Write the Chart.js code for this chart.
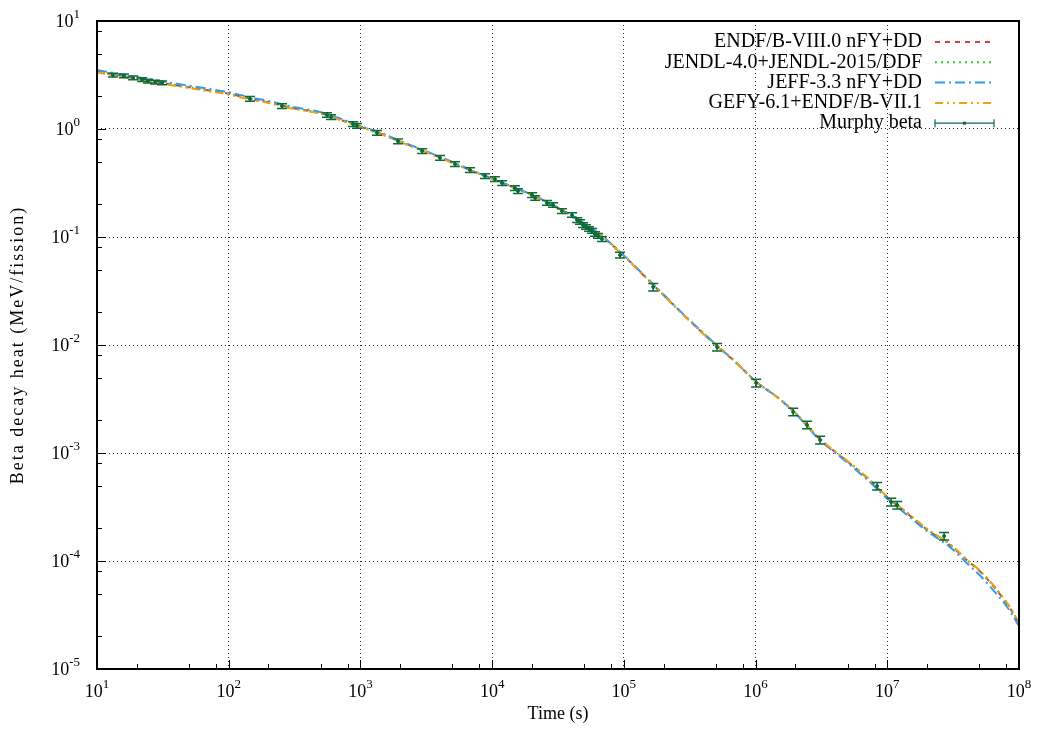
<!DOCTYPE html>
<html>
<head>
<meta charset="utf-8">
<script src="https://cdn.jsdelivr.net/npm/chart.js@4.4.0/dist/chart.umd.min.js"></script>
<style>
  html, body { margin: 0; padding: 0; background: #fff; }
</style>
</head>
<body>
<canvas id="myChart" width="1037" height="733"></canvas>
<script>
// time grid for the calculated curves (s)
const times = [10, 15, 20, 30, 50, 70, 100, 150, 200, 300, 500, 700, 1e3, 1.5e3, 2e3, 3e3, 5e3, 7e3,
  1e4, 1.5e4, 2e4, 3e4, 5e4, 7e4, 1e5, 1.5e5, 2e5, 3e5, 5e5, 7e5, 1e6, 1.5e6, 2e6, 3e6, 5e6, 7e6,
  1e7, 1.5e7, 2e7, 3e7, 4e7, 5e7, 6e7, 7e7, 8e7, 9e7, 1e8];

// beta decay heat (MeV/fission)
const endf = [3.40, 3.12, 2.93, 2.69, 2.43, 2.28, 2.12, 1.89, 1.77, 1.57, 1.40, 1.22, 1.05, 0.885, 0.765, 0.63, 0.49, 0.41,
  0.345, 0.283, 0.246, 0.192, 0.134, 0.099, 0.067, 0.041, 0.029, 0.0178, 0.0100, 0.0070, 0.0046, 0.0032, 0.00235, 0.00138, 0.00083, 0.00059,
  0.00039, 0.00026, 0.000195, 0.000140, 0.000102, 0.000081, 0.000064, 0.000051, 0.000041, 0.000033, 0.0000260];
const jendl = [3.42, 3.13, 2.94, 2.70, 2.44, 2.29, 2.12, 1.90, 1.78, 1.58, 1.40, 1.23, 1.06, 0.89, 0.768, 0.632, 0.49, 0.411,
  0.346, 0.284, 0.246, 0.193, 0.135, 0.0995, 0.0672, 0.0412, 0.0291, 0.0179, 0.0101, 0.00705, 0.00463, 0.00322, 0.00236, 0.00139, 0.000835, 0.000592,
  0.000392, 0.000262, 0.000197, 0.000142, 0.000103, 0.0000815, 0.0000645, 0.0000515, 0.0000415, 0.0000335, 0.0000263];
const jeff = [3.52, 3.22, 3.03, 2.78, 2.52, 2.36, 2.19, 1.95, 1.82, 1.61, 1.43, 1.25, 1.07, 0.90, 0.775, 0.638, 0.495, 0.414,
  0.348, 0.285, 0.247, 0.193, 0.135, 0.0995, 0.0675, 0.0415, 0.0294, 0.0180, 0.0101, 0.0070, 0.00462, 0.0032, 0.00233, 0.00136, 0.00081, 0.00057,
  0.000378, 0.000252, 0.000189, 0.000134, 0.000096, 0.0000745, 0.0000585, 0.0000470, 0.0000385, 0.0000310, 0.0000250];
const gefy = [3.33, 3.06, 2.88, 2.64, 2.39, 2.24, 2.08, 1.86, 1.74, 1.55, 1.38, 1.21, 1.04, 0.875, 0.758, 0.625, 0.485, 0.407,
  0.343, 0.281, 0.244, 0.191, 0.133, 0.0985, 0.0665, 0.0407, 0.0288, 0.0177, 0.0099, 0.0070, 0.0046, 0.0032, 0.00236, 0.00139, 0.00084, 0.000598,
  0.000395, 0.000265, 0.000199, 0.000143, 0.000104, 0.0000825, 0.0000655, 0.0000522, 0.0000420, 0.0000337, 0.0000265];

// Murphy beta measurement
const murphyT = [13.2, 16.0, 18.8, 22.0, 24.4, 27.6, 31.2,
  145, 254, 557, 598, 879, 942, 1336, 1930,
  2940, 4020, 5220, 6790, 8830, 10500, 11900, 14900, 15700, 20100, 21200, 26100, 29000, 33900, 40400,
  44200, 46500, 49000, 51600, 54400, 57300, 60400, 63600, 68200,
  93500, 1.67e5, 5.1e5, 1.01e6, 1.93e6, 2.46e6, 3.09e6, 8.37e6, 1.07e7, 1.19e7, 2.70e7];
const murphyV = [3.16, 3.10, 2.97, 2.87, 2.78, 2.72, 2.67,
  1.90, 1.63, 1.35, 1.29, 1.11, 1.07, 0.92, 0.77,
  0.625, 0.54, 0.474, 0.417, 0.367, 0.344, 0.316, 0.284, 0.266, 0.245, 0.23, 0.207, 0.198, 0.174, 0.16,
  0.1436, 0.1378, 0.129, 0.1239, 0.1188, 0.114, 0.1067, 0.1024, 0.0957,
  0.068, 0.0344, 0.00958, 0.00445, 0.0024, 0.00182, 0.00132, 0.000494, 0.000352, 0.00033, 0.00017];
// relative uncertainty (%)
const murphyErr = [4, 4, 4, 4, 4, 4, 4,
  5, 5, 5, 5, 5, 5, 5, 5,
  5, 5, 5, 5, 5, 5, 5, 5, 5, 5, 5, 5, 5, 5, 5,
  5, 5, 5, 5, 5, 5, 5, 5, 5,
  6, 8, 8, 8, 8, 8, 8, 8, 8, 8, 8];

const xDecades = [1e1, 1e2, 1e3, 1e4, 1e5, 1e6, 1e7, 1e8];
const yDecades = [1e-5, 1e-4, 1e-3, 1e-2, 1e-1, 1e0, 1e1];
const yTitle = "Beta decay heat (MeV/fission)";

const serif = "'Liberation Serif', 'Times New Roman', serif";

function toPts(xs, ys) {
  return xs.map((x, i) => ({ x: x, y: ys[i] }));
}

const series = [
  { label: "ENDF/B-VIII.0 nFY+DD", data: endf, color: "#cc4444", dash: [5, 5] },
  { label: "JENDL-4.0+JENDL-2015/DDF", data: jendl, color: "#22cc22", dash: [2, 4] },
  { label: "JEFF-3.3 nFY+DD", data: jeff, color: "#3399ee", dash: [10, 4, 2, 4] },
  { label: "GEFY-6.1+ENDF/B-VII.1", data: gefy, color: "#f0a010", dash: [8, 4, 2, 4, 2, 4] }
];
const murphyColor = "#0b6b3a";

const datasets = series.map((s, i) => ({
  type: "line",
  label: s.label,
  data: toPts(times, s.data),
  borderColor: s.color,
  borderWidth: 2,
  borderDash: s.dash,
  pointRadius: 0,
  fill: false,
  cubicInterpolationMode: "monotone",
  order: 4 - i
}));
datasets.push({
  type: "scatter",
  label: "Murphy beta",
  data: toPts(murphyT, murphyV),
  backgroundColor: murphyColor,
  borderColor: murphyColor,
  pointRadius: 1.5,
  order: 0
});

// "10" with a raised exponent, like gnuplot's enhanced text
function drawPow(ctx, v, x, y, align) {
  const e = String(Math.round(Math.log10(v)));
  ctx.font = "18px " + serif;
  const w1 = ctx.measureText("10").width;
  ctx.font = "13px " + serif;
  const w2 = ctx.measureText(e).width;
  const x0 = align === "right" ? x - w1 - w2 : x - (w1 + w2) / 2;
  ctx.textAlign = "left";
  ctx.textBaseline = "alphabetic";
  ctx.font = "18px " + serif;
  ctx.fillText("10", x0, y);
  ctx.font = "13px " + serif;
  ctx.fillText(e, x0 + w1, y - 9);
}

// error bars, tick labels, inner tick marks, frame and key
const extras = {
  id: "extras",
  afterDatasetsDraw(chart) {
    const ctx = chart.ctx;
    const xs = chart.scales.x, ys = chart.scales.y;
    const a = chart.chartArea;
    ctx.save();
    ctx.strokeStyle = murphyColor;
    ctx.lineWidth = 1.5;
    murphyT.forEach((t, i) => {
      const px = xs.getPixelForValue(t);
      const e = murphyErr[i] / 100;
      const yLo = ys.getPixelForValue(murphyV[i] * (1 - e));
      const yHi = ys.getPixelForValue(murphyV[i] * (1 + e));
      ctx.beginPath();
      ctx.moveTo(px, yLo); ctx.lineTo(px, yHi);
      ctx.moveTo(px - 5, yLo); ctx.lineTo(px + 5, yLo);
      ctx.moveTo(px - 5, yHi); ctx.lineTo(px + 5, yHi);
      ctx.stroke();
    });

    // tick marks, pointing inwards
    ctx.strokeStyle = "#000";
    ctx.lineWidth = 1;
    ctx.beginPath();
    xDecades.forEach((d, i) => {
      const px = Math.round(xs.getPixelForValue(d)) + 0.5;
      ctx.moveTo(px, a.bottom); ctx.lineTo(px, a.bottom - 9);
      if (i < xDecades.length - 1) {
        [2, 5, 8].forEach(m => {
          const q = Math.round(xs.getPixelForValue(d * m)) + 0.5;
          ctx.moveTo(q, a.bottom); ctx.lineTo(q, a.bottom - 5);
        });
      }
    });
    yDecades.forEach((d, i) => {
      const py = Math.round(ys.getPixelForValue(d)) + 0.5;
      ctx.moveTo(a.left, py); ctx.lineTo(a.left + 9, py);
      if (i < yDecades.length - 1) {
        [2, 5, 8].forEach(m => {
          const q = Math.round(ys.getPixelForValue(d * m)) + 0.5;
          ctx.moveTo(a.left, q); ctx.lineTo(a.left + 5, q);
        });
      }
    });
    ctx.stroke();

    // frame
    ctx.lineWidth = 2;
    ctx.strokeRect(a.left, a.top, a.right - a.left, a.bottom - a.top);

    // tick labels
    ctx.fillStyle = "#000";
    xDecades.forEach(d => drawPow(ctx, d, xs.getPixelForValue(d), a.bottom + 28, "center"));
    yDecades.forEach(d => drawPow(ctx, d, a.left - 17, ys.getPixelForValue(d) + 6, "right"));

    // y axis title
    ctx.save();
    ctx.translate(18, (a.top + a.bottom) / 2);
    ctx.rotate(-Math.PI / 2);
    ctx.font = "18px " + serif;
    ctx.letterSpacing = "2px";
    ctx.textAlign = "center";
    ctx.textBaseline = "middle";
    ctx.fillText(yTitle, 0, 0);
    ctx.restore();

    // key
    ctx.font = "20px " + serif;
    ctx.fillStyle = "#000";
    ctx.textAlign = "right";
    ctx.textBaseline = "middle";
    const rows = series.map(s => s.label).concat(["Murphy beta"]);
    rows.forEach((lab, i) => {
      const y = 42 + i * 20.3;
      ctx.fillText(lab, 922, y);
      ctx.beginPath();
      if (i < series.length) {
        ctx.strokeStyle = series[i].color;
        ctx.lineWidth = 2;
        ctx.setLineDash(series[i].dash);
        ctx.moveTo(935, y); ctx.lineTo(994, y);
        ctx.stroke();
        ctx.setLineDash([]);
      } else {
        ctx.strokeStyle = murphyColor;
        ctx.lineWidth = 1.2;
        ctx.moveTo(935, y); ctx.lineTo(994, y);
        ctx.moveTo(935, y - 4); ctx.lineTo(935, y + 4);
        ctx.moveTo(994, y - 4); ctx.lineTo(994, y + 4);
        ctx.stroke();
        ctx.fillStyle = murphyColor;
        ctx.fillRect(963, y - 1.5, 3, 3);
        ctx.fillStyle = "#000";
      }
    });
    ctx.restore();
  }
};

const titleFont = { family: serif, size: 18 };

const ctx = document.getElementById("myChart").getContext("2d");
const myChart = new Chart(ctx, {
  data: { datasets: datasets },
  options: {
    responsive: false,
    animation: false,
    layout: { padding: { top: 21, right: 18, left: 0, bottom: 0 } },
    plugins: {
      legend: { display: false },
      tooltip: { enabled: false }
    },
    scales: {
      x: {
        type: "logarithmic",
        min: 10,
        max: 1e8,
        afterBuildTicks: function (axis) {
          axis.ticks = xDecades.map(v => ({ value: v }));
        },
        afterFit: function (axis) { axis.height = 64; },
        grid: { color: "#222", lineWidth: 1, drawTicks: false },
        border: { display: false, dash: [1, 3] },
        ticks: { display: false },
        title: { display: true, text: "Time (s)", font: titleFont, color: "#000", padding: { top: 0, bottom: 8 } }
      },
      y: {
        type: "logarithmic",
        min: 1e-5,
        max: 10,
        afterBuildTicks: function (axis) {
          axis.ticks = yDecades.map(v => ({ value: v }));
        },
        afterFit: function (axis) { axis.width = 97; },
        grid: { color: "#222", lineWidth: 1, drawTicks: false },
        border: { display: false, dash: [1, 3] },
        ticks: { display: false }
      }
    }
  },
  plugins: [extras]
});
</script>
</body>
</html>
